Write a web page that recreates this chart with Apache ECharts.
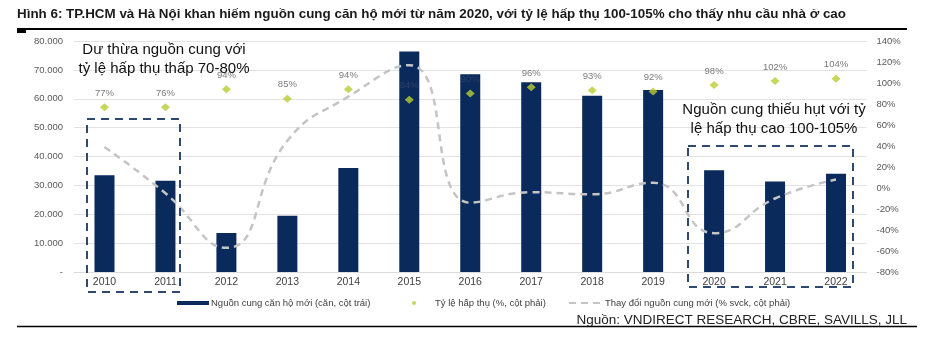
<!DOCTYPE html>
<html>
<head>
<meta charset="utf-8">
<script src="https://cdn.jsdelivr.net/npm/echarts@6/dist/echarts.min.js"></script>
<style>
html,body{margin:0;padding:0;background:#fff;}
#c{width:940px;height:351px;}
</style>
</head>
<body>
<div id="c"></div>
<script>
var years = ['2010','2011','2012','2013','2014','2015','2016','2017','2018','2019','2020','2021','2022'];
var supply = [33500, 31600, 13500, 19500, 36000, 76400, 68500, 65700, 61000, 63000, 35200, 31300, 34000];
var absorption = [77, 77, 94, 85, 94, 84, 90, 96, 93, 92, 98, 102, 104];
var absorptionLabels = ['77%','76%','94%','85%','94%','84%','90%','96%','93%','92%','98%','102%','104%'];
var supplyChange = [39, -5, -57, 45, 87, 117, -14, -4, -6, 5, -43, -10, 8];
var leftTicks = {min: 0, max: 80000, interval: 10000};
var rightTicks = {min: -80, max: 140, interval: 20};

var FONT = '"Liberation Sans", Arial, sans-serif';
var chart = echarts.init(document.getElementById('c'), null, {renderer: 'canvas'});

var scatterData = absorption.map(function (v, i) {
  var item = {value: v, label: {formatter: absorptionLabels[i]}};
  if (i === 5 || i === 6) item.label.color = '#34476b';
  return item;
});

chart.setOption({
  backgroundColor: '#ffffff',
  animation: false,
  grid: {left: 74, right: 73.5, top: 41, bottom: 79},
  legend: [
    {data: ['Nguồn cung căn hộ mới (căn, cột trái)'], left: 172, top: 293, icon: 'rect', itemWidth: 32, itemHeight: 4,
      textStyle: {fontFamily: FONT, fontSize: 9.5, color: '#404040', padding: [0,0,0,-3]}},
    {data: ['Tỷ lệ hấp thụ (%, cột phải)'], left: 407, top: 293, icon: 'circle', itemWidth: 4, itemHeight: 4,
      textStyle: {fontFamily: FONT, fontSize: 9.5, color: '#404040', padding: [0,0,0,14]}},
    {data: ['Thay đổi nguồn cung mới (% svck, cột phải)'], left: 563, top: 293, itemWidth: 32, itemHeight: 6,
      itemStyle: {opacity: 0},
      textStyle: {fontFamily: FONT, fontSize: 9.5, color: '#404040', padding: [0,0,0,-1]}}
  ],
  xAxis: {
    type: 'category', data: years,
    axisLine: {show: true, lineStyle: {color: '#dcdcdc'}},
    axisTick: {show: false},
    axisLabel: {fontFamily: FONT, fontSize: 10.5, color: '#404040', margin: 5}
  },
  yAxis: [
    {type: 'value', min: leftTicks.min, max: leftTicks.max, interval: leftTicks.interval,
      axisLine: {show: false}, axisTick: {show: false},
      splitLine: {lineStyle: {color: '#e3e3e3'}},
      axisLabel: {fontFamily: FONT, fontSize: 9.5, color: '#595959', margin: 11,
        formatter: function (v) { return v === 0 ? '-' : (v / 1000) + '.000'; }}},
    {type: 'value', min: rightTicks.min, max: rightTicks.max, interval: rightTicks.interval,
      axisLine: {show: false}, axisTick: {show: false}, splitLine: {show: false},
      axisLabel: {fontFamily: FONT, fontSize: 9.5, color: '#595959', margin: 10,
        formatter: function (v) { return v + '%'; }}}
  ],
  series: [
    {name: 'Nguồn cung căn hộ mới (căn, cột trái)', type: 'bar', data: supply, barWidth: 20,
      itemStyle: {color: '#0b2a5c'}, z: 2},
    {name: 'Thay đổi nguồn cung mới (% svck, cột phải)', type: 'line', yAxisIndex: 1, data: supplyChange,
      smooth: 0.5, symbol: 'none', lineStyle: {color: '#c4c4c4', width: 2.5, type: [7, 5]},
      itemStyle: {color: '#c4c4c4'}, z: 3},
    {name: 'Tỷ lệ hấp thụ (%, cột phải)', type: 'scatter', yAxisIndex: 1, data: scatterData,
      symbol: 'diamond', symbolSize: [9, 8],
      itemStyle: {color: '#b8cd32'},
      label: {show: true, position: 'top', distance: 5, fontFamily: FONT, fontSize: 9.5, color: '#595959'},
      z: 4}
  ],
  graphic: [
    {type: 'text', left: 17, top: 8, style: {text: 'Hình 6: TP.HCM và Hà Nội khan hiếm nguồn cung căn hộ mới từ năm 2020, với tỷ lệ hấp thụ 100-105% cho thấy nhu cầu nhà ở cao',
      font: 'bold 13.4px ' + FONT, fill: '#1a1a1a'}},
    {type: 'line', shape: {x1: 17, y1: 29, x2: 907, y2: 29}, style: {stroke: '#000', lineWidth: 2}},
    {type: 'rect', shape: {x: 17, y: 28, width: 9, height: 5}, style: {fill: '#000'}},
    {type: 'rect', shape: {x: 87, y: 119, width: 93, height: 173}, style: {fill: 'none', stroke: '#2e4a72', lineWidth: 2, lineDash: [8, 6]}, z: 10},
    {type: 'rect', shape: {x: 688, y: 146, width: 165, height: 141}, style: {fill: 'none', stroke: '#2e4a72', lineWidth: 2, lineDash: [8, 6]}, z: 10},
    {type: 'text', x: 164, y: 50, style: {text: 'Dư thừa nguồn cung với', font: '15px ' + FONT, fill: '#111', textAlign: 'center', textVerticalAlign: 'middle'}, z: 10},
    {type: 'text', x: 164, y: 69, style: {text: 'tỷ lệ hấp thụ thấp 70-80%', font: '15px ' + FONT, fill: '#111', textAlign: 'center', textVerticalAlign: 'middle'}, z: 10},
    {type: 'text', x: 774, y: 110, style: {text: 'Nguồn cung thiếu hụt với tỷ', font: '15px ' + FONT, fill: '#111', textAlign: 'center', textVerticalAlign: 'middle'}, z: 10},
    {type: 'text', x: 774, y: 129, style: {text: 'lệ hấp thụ cao 100-105%', font: '15px ' + FONT, fill: '#111', textAlign: 'center', textVerticalAlign: 'middle'}, z: 10},
    {type: 'text', x: 907, y: 320, style: {text: 'Nguồn: VNDIRECT RESEARCH, CBRE, SAVILLS, JLL', font: '13.5px ' + FONT, fill: '#222', textAlign: 'right', textVerticalAlign: 'middle'}},
    {type: 'line', shape: {x1: 17, y1: 326.5, x2: 917, y2: 326.5}, style: {stroke: '#000', lineWidth: 1.5}}
  ]
});
</script>
</body>
</html>
